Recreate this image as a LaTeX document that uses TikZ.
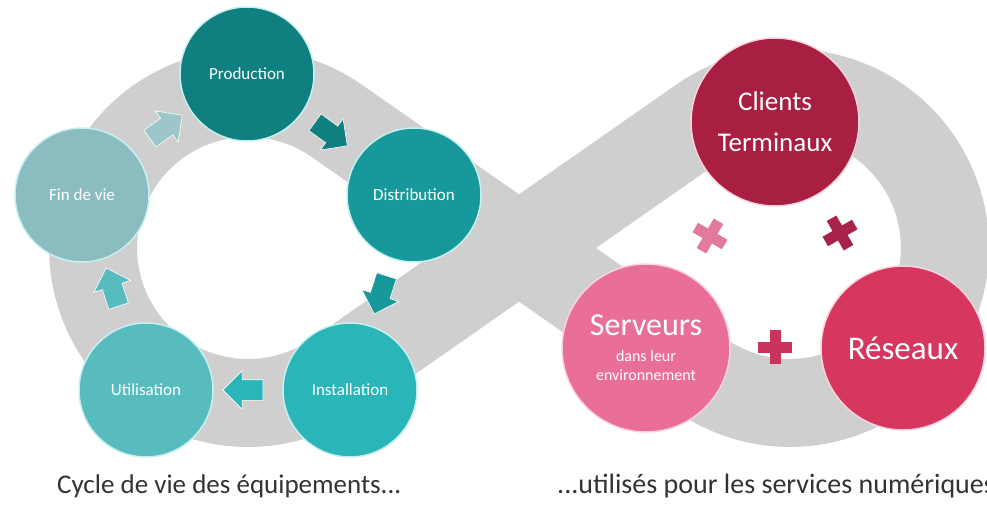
\documentclass[tikz,border=0pt]{standalone}
\usepackage{fontspec}
\setmainfont{Carlito}
\usetikzlibrary{shapes.arrows}
\definecolor{bandc}{HTML}{CFCFCF}
\definecolor{prodc}{HTML}{107F80}
\definecolor{distc}{HTML}{17999B}
\definecolor{instc}{HTML}{2AB5B8}
\definecolor{utilc}{HTML}{58BCBE}
\definecolor{finc}{HTML}{8BBCBF}
\definecolor{clic}{HTML}{A91F42}
\definecolor{servc}{HTML}{EA6F98}
\definecolor{resc}{HTML}{D7375F}
\definecolor{plusl}{HTML}{E27A9E}
\definecolor{plusr}{HTML}{A8234A}
\definecolor{plusb}{HTML}{C8345C}
\definecolor{captc}{HTML}{333333}
\definecolor{tealline}{HTML}{C8F0F0}
\definecolor{pinkline}{HTML}{F8D4DE}
\begin{document}
\begin{tikzpicture}[x=1pt,y=-1pt,
  band/.style={draw=bandc, line width=88pt, line join=round},
  lcirc/.style={circle, minimum size=134pt, inner sep=0pt, draw=tealline, line width=1.5pt, text=white, font=\fontsize{17}{20}\selectfont},
  pcirc/.style={circle, minimum size=168pt, inner sep=0pt, draw=pinkline, line width=1.5pt, text=white, align=center},
  cyarrow/.style={single arrow, minimum height=40pt, inner sep=10pt, outer sep=0pt, single arrow head extend=9pt, draw=white, line width=0.6pt},
  caption/.style={text=captc, font=\fontsize{27}{30}\selectfont, anchor=base west, inner sep=0pt}
]
\useasboundingbox (0,0) rectangle (987,514);
% infinity band
\draw[band] (337,375) -- (701,121) arc[start angle=235, end angle=485, radius=155]
  -- (337,121) arc[start angle=-55, end angle=-305, radius=155] -- cycle;
% cycle arrows
\node[cyarrow, fill=finc!85!white, rotate=36] (a1) at (162,130) {};
\node[cyarrow, fill=prodc, rotate=-36] (a2) at (327,131) {};
\node[cyarrow, fill=distc, rotate=-108] (a3) at (382,290) {};
\node[cyarrow, fill=instc, rotate=180] (a4) at (248,390) {};
\node[cyarrow, fill=utilc, rotate=108] (a5) at (114,292) {};
% life-cycle circles
\node[lcirc, fill=prodc] (prod) at (247,74) {Production};
\node[lcirc, fill=distc] (dist) at (414,195) {Distribution};
\node[lcirc, fill=instc] (inst) at (350,390) {Installation};
\node[lcirc, fill=utilc] (util) at (146,390) {Utilisation};
\node[lcirc, fill=finc] (fin) at (82,195) {Fin de vie};
% service circles
\node[pcirc, fill=clic, font=\fontsize{27}{41}\selectfont] (cli) at (775,122) {Clients\\Terminaux};
\node[pcirc, fill=servc, font=\fontsize{16}{19}\selectfont] (serv) at (646,348) {{\fontsize{32}{34}\selectfont Serveurs}\\[7pt]dans leur\\environnement};
\node[pcirc, fill=resc, font=\fontsize{33}{36}\selectfont, minimum size=164pt] (res) at (903,348) {Réseaux};
% plus signs
\begin{scope}[shift={(710,236)}, rotate=-30]
  \fill[plusl] (-17,-5.5) rectangle (17,5.5);
  \fill[plusl] (-5.5,-17) rectangle (5.5,17);
\end{scope}
\begin{scope}[shift={(840,233)}, rotate=30]
  \fill[plusr] (-17,-5.5) rectangle (17,5.5);
  \fill[plusr] (-5.5,-17) rectangle (5.5,17);
\end{scope}
\begin{scope}[shift={(775,347)}]
  \fill[plusb] (-17,-5.5) rectangle (17,5.5);
  \fill[plusb] (-5.5,-17) rectangle (5.5,17);
\end{scope}
% captions
\node[caption] (cap1) at (57,493) {Cycle de vie des équipements...};
\node[caption, font=\fontsize{28}{30}\selectfont] (cap2) at (557,493) {...utilisés pour les services numériques};
\end{tikzpicture}
\end{document}
